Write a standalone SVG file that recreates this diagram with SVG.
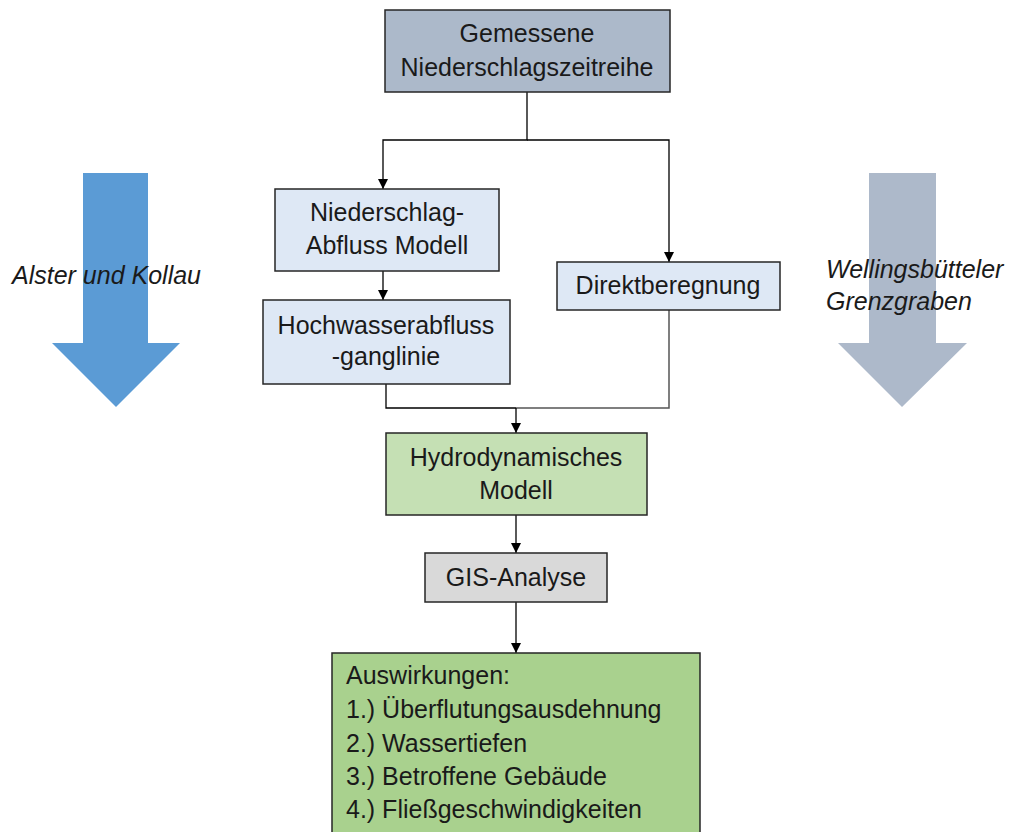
<svg xmlns="http://www.w3.org/2000/svg" width="1015" height="832" viewBox="0 0 1015 832">
<defs>
<marker id="ah" viewBox="0 0 10 10" refX="10" refY="5" markerWidth="10" markerHeight="10" markerUnits="userSpaceOnUse" orient="auto">
<path d="M0,0 L10,5 L0,10 Z" fill="#000"/>
</marker>
<style>
.box{stroke:#262626;stroke-width:1.5}
.t{font-family:"Liberation Sans",Arial,sans-serif;font-size:25px;fill:#1a1a1a;text-anchor:middle}
.tl{font-family:"Liberation Sans",Arial,sans-serif;font-size:25px;fill:#1a1a1a}
.it{font-family:"Liberation Sans",Arial,sans-serif;font-size:25px;font-style:italic;fill:#1a1a1a}
.c{fill:none;stroke:#000;stroke-width:1.3}
.cg{fill:none;stroke:#555;stroke-width:1.5}
</style>
</defs>
<rect width="1015" height="832" fill="#fff"/>
<g id="arrow-left">
<polygon points="83,173 148,173 148,343 180,343 116,407 52,343 83,343" fill="#5b9bd5"/>
</g>
<g id="arrow-right">
<polygon points="869,173 936,173 936,343 967,343 902,407 838,343 869,343" fill="#adb9ca"/>
</g>
<g id="connectors">
<polyline class="c" points="527,92 527,140 383,140 383,189" marker-end="url(#ah)"/>
<polyline class="c" points="527,140 669,140 669,262" marker-end="url(#ah)"/>
<line class="c" x1="383" y1="271" x2="383" y2="300" marker-end="url(#ah)"/>
<polyline class="c" points="386,384 386,408 516,408"/>
<polyline class="cg" points="669,310 669,408 516,408"/>
<line class="c" x1="516" y1="408" x2="516" y2="433" marker-end="url(#ah)"/>
<line class="c" x1="516" y1="515" x2="516" y2="553" marker-end="url(#ah)"/>
<line class="c" x1="516" y1="602" x2="516" y2="653" marker-end="url(#ah)"/>
</g>
<g id="node-gemessene">
<rect class="box" x="385" y="10" width="285" height="82" fill="#acb9ca"/>
<text class="t" x="527" y="42">Gemessene</text>
<text class="t" x="527" y="76">Niederschlagszeitreihe</text>
</g>
<g id="node-na-modell">
<rect class="box" x="275" y="189" width="224" height="82" fill="#dee8f5"/>
<text class="t" x="387" y="221">Niederschlag-</text>
<text class="t" x="387" y="254">Abfluss Modell</text>
</g>
<g id="node-direkt">
<rect class="box" x="557" y="262" width="223" height="48" fill="#dee8f5"/>
<text class="t" x="668" y="294">Direktberegnung</text>
</g>
<g id="node-hochwasser">
<rect class="box" x="263" y="300" width="247" height="84" fill="#dee8f5"/>
<text class="t" x="386" y="334">Hochwasserabfluss</text>
<text class="t" x="386" y="365">-ganglinie</text>
</g>
<g id="node-hydro">
<rect class="box" x="386" y="433" width="261" height="82" fill="#c5e0b4"/>
<text class="t" x="516" y="466">Hydrodynamisches</text>
<text class="t" x="516" y="499">Modell</text>
</g>
<g id="node-gis">
<rect class="box" x="425" y="553" width="182" height="49" fill="#d9d9d9"/>
<text class="t" x="516" y="586">GIS-Analyse</text>
</g>
<g id="node-auswirkungen">
<rect class="box" x="332" y="653" width="368" height="185" fill="#a9d18e"/>
<text class="tl" x="346" y="684">Auswirkungen:</text>
<text class="tl" x="346" y="718">1.) Überflutungsausdehnung</text>
<text class="tl" x="346" y="752">2.) Wassertiefen</text>
<text class="tl" x="346" y="785">3.) Betroffene Gebäude</text>
<text class="tl" x="346" y="818">4.) Fließgeschwindigkeiten</text>
</g>
<g id="label-left">
<text class="it" x="12" y="284">Alster und Kollau</text>
</g>
<g id="label-right">
<text class="it" x="826" y="278">Wellingsbütteler</text>
<text class="it" x="826" y="310">Grenzgraben</text>
</g>
</svg>
